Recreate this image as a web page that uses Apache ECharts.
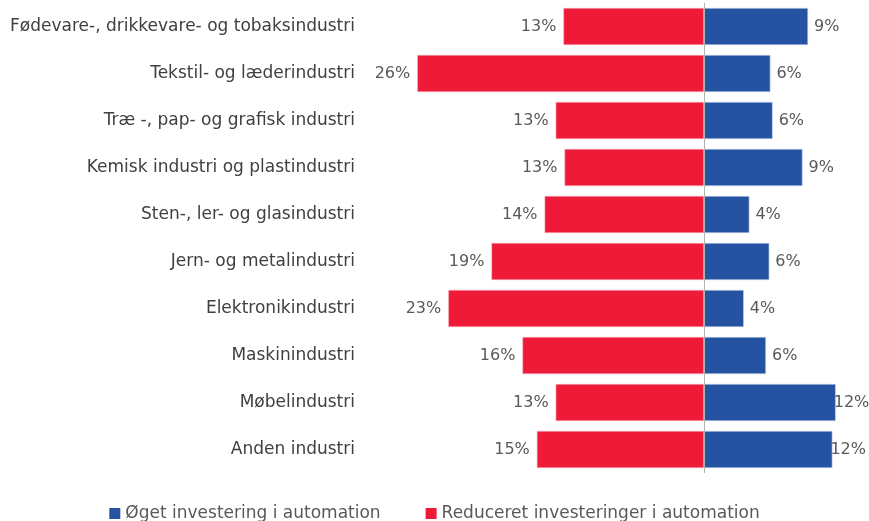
<!DOCTYPE html>
<html>
<head>
<meta charset="utf-8">
<script src="https://cdn.jsdelivr.net/npm/echarts@6/dist/echarts.min.js"></script>
<style>
  html, body { margin: 0; padding: 0; background: #fff; }
  #main { width: 869px; height: 521px; }
</style>
</head>
<body>
<div id="main"></div>
<script>
// brancher (oppefra og ned)
var categories = [
    'Fødevare-, drikkevare- og tobaksindustri',
    'Tekstil- og læderindustri',
    'Træ -, pap- og grafisk industri',
    'Kemisk industri og plastindustri',
    'Sten-, ler- og glasindustri',
    'Jern- og metalindustri',
    'Elektronikindustri',
    'Maskinindustri',
    'Møbelindustri',
    'Anden industri'
];
// andel i procent
var oget = [9.4, 6.0, 6.2, 8.9, 4.1, 5.9, 3.6, 5.6, 11.9, 11.6];
var reduceret = [12.7, 25.9, 13.4, 12.6, 14.4, 19.2, 23.1, 16.4, 13.4, 15.1];

var blaa = '#2553a2';
var roed = '#ef1a38';
var tekst = '#404040';
var graa = '#595959';
var font = 'DejaVu Sans';

var chart = echarts.init(document.getElementById('main'));
chart.setOption({
    animation: false,
    textStyle: { fontFamily: font },
    grid: { left: 394, right: 10, top: 3, bottom: 48 },
    legend: {
        top: 500,
        left: 'center',
        itemWidth: 11,
        itemHeight: 11,
        itemGap: 45,
        icon: 'rect',
        itemStyle: { borderWidth: 0 },
        textStyle: { color: graa, fontSize: 17, fontFamily: font },
        data: ['Øget investering i automation', 'Reduceret investeringer i automation']
    },
    xAxis: {
        type: 'value',
        min: -28,
        max: 14,
        show: false
    },
    yAxis: {
        type: 'category',
        inverse: true,
        data: categories,
        axisLine: { show: false, onZero: false },
        axisTick: { show: false },
        axisLabel: { color: tekst, fontSize: 17, margin: 39, fontFamily: font }
    },
    series: [
        {
            name: 'Øget investering i automation',
            type: 'bar',
            stack: 'total',
            barCategoryGap: '21%',
            itemStyle: { color: blaa, borderColor: '#c9d6ee', borderWidth: 0.6 },
            label: {
                show: true,
                position: 'right',
                distance: 6,
                color: graa,
                fontSize: 16,
                fontFamily: font,
                formatter: function (p) { return Math.round(p.value) + '%'; }
            },
            data: oget.map(function (v) {
                // de lange søjler får etiketten trukket ind, så den kan være der
                return v > 11 ? { value: v, label: { distance: -2 } } : v;
            }),
            markLine: {
                silent: true,
                symbol: 'none',
                label: { show: false },
                lineStyle: { color: '#b3b3b3', type: 'solid', width: 1 },
                data: [{ xAxis: 0 }]
            }
        },
        {
            name: 'Reduceret investeringer i automation',
            type: 'bar',
            stack: 'total',
            barCategoryGap: '21%',
            itemStyle: { color: roed, borderColor: '#f6b7c1', borderWidth: 0.6 },
            label: {
                show: true,
                position: 'left',
                distance: 7,
                color: graa,
                fontSize: 16,
                fontFamily: font,
                formatter: function (p) { return Math.round(Math.abs(p.value)) + '%'; }
            },
            data: reduceret.map(function (v) { return -v; })
        }
    ]
});
</script>
</body>
</html>
